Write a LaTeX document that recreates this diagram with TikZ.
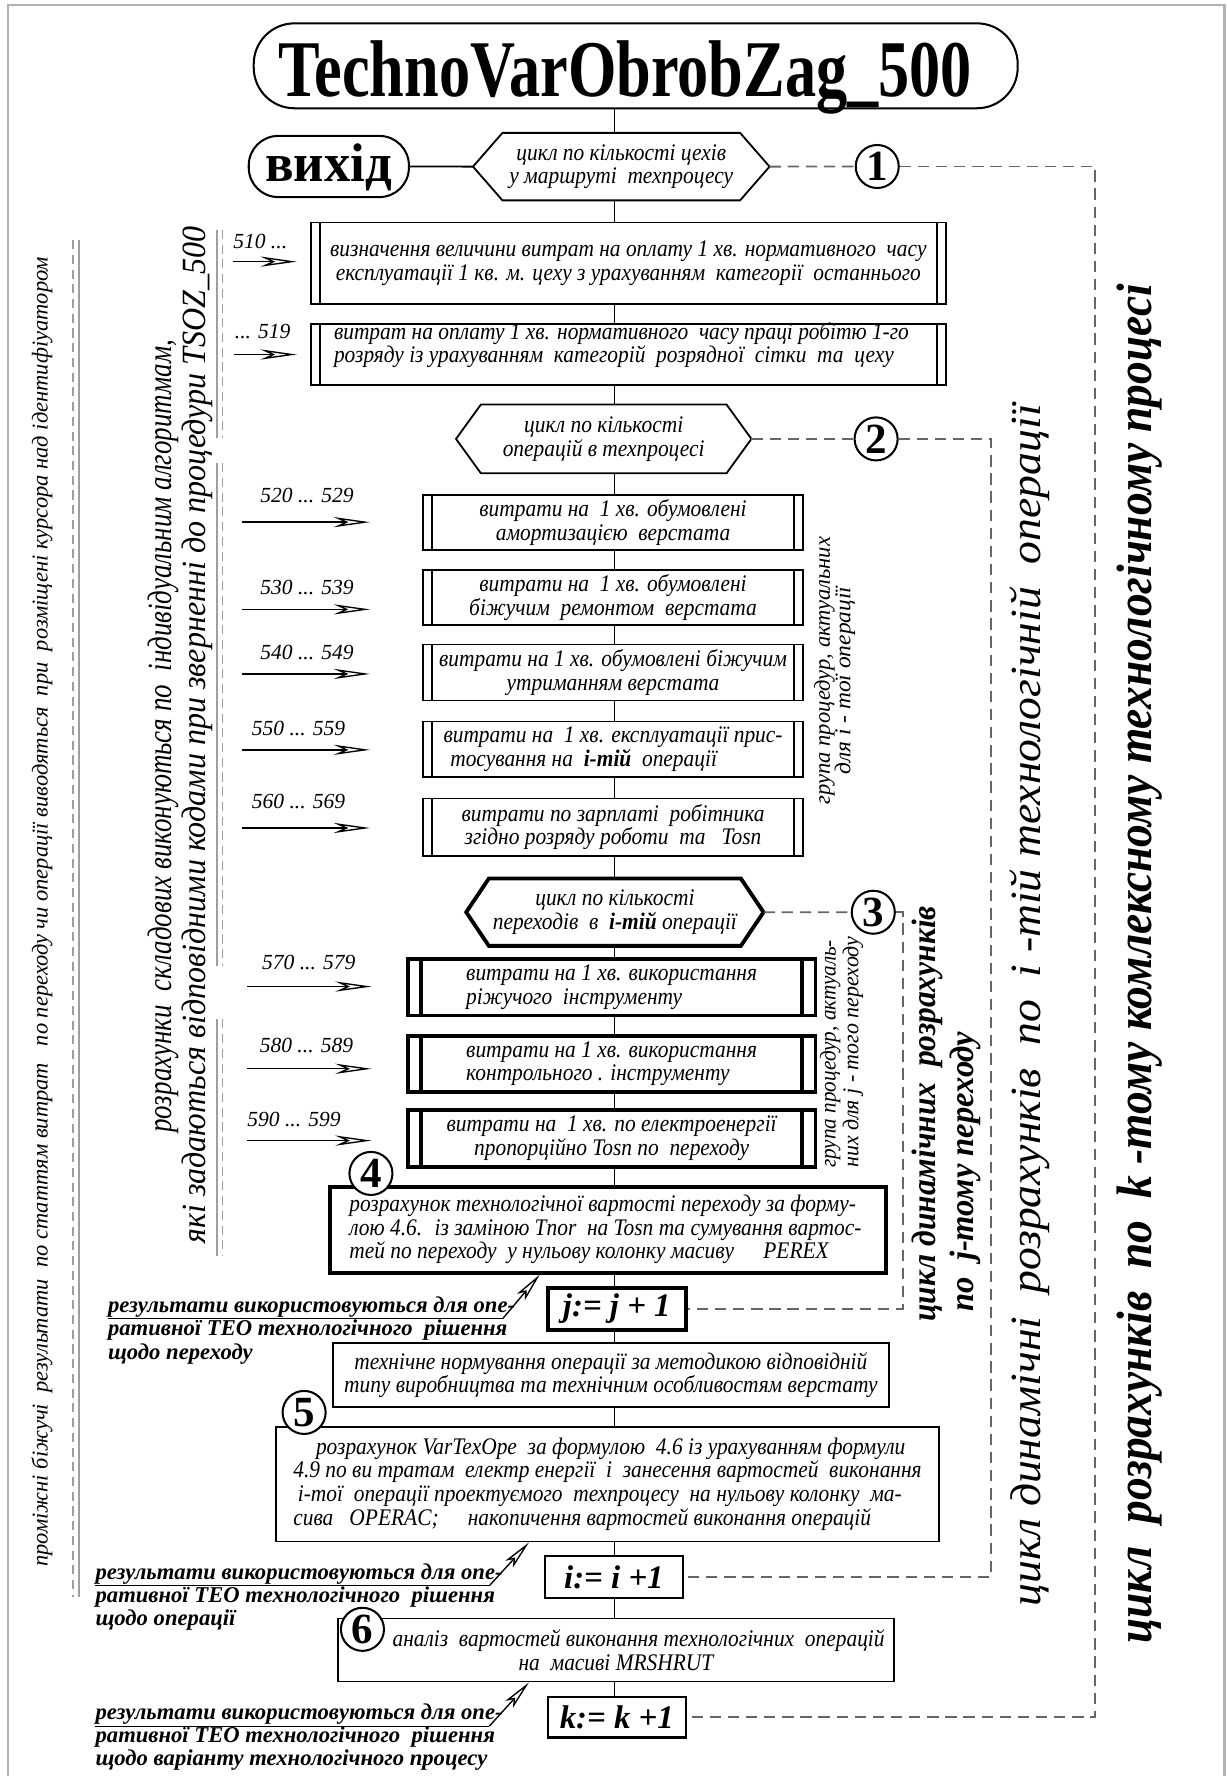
\documentclass[tikz,border=0pt]{standalone}
\usepackage{fontspec}
\usepackage{graphicx}
\setmainfont{Liberation Serif}
\newfontfamily\cf[FakeStretch=0.9]{Liberation Serif}
\newfontfamily\nf{Liberation Serif}
\usetikzlibrary{arrows.meta,calc}

\newcommand\bx[7]{%
  \pgfmathsetmacro\bxcx{(#3+#5)/2}%
  \pgfmathsetmacro\bxcy{(#4+#6)/2}%
  \pgfmathsetmacro\bxw{(#5-#3)/2}%
  \pgfmathsetmacro\bxh{(#6-#4)/2}%
  \node[#2, minimum width=\bxw pt, minimum height=\bxh pt] (#1) at (\bxcx,\bxcy) {#7};%
}
\newcommand\hexo[3]{%
  \draw[#3] (#1.west) -- ([xshift=#2*0.5pt]#1.north west) -- ([xshift=-#2*0.5pt]#1.north east)
    -- (#1.east) -- ([xshift=-#2*0.5pt]#1.south east) -- ([xshift=#2*0.5pt]#1.south west) -- cycle;%
}
\newcommand\inar[7]{%
  \coordinate (#1s) at (#2,#4); \coordinate (#1e) at (#3,#4);
  \draw[inarr] (#1s) -- (#1e);
  \node[lbl] (#1l) at (#6,#7) {#5};%
}
\newcommand\fitw[2]{\resizebox{#1}{\height}{#2}}

\tikzset{
 flow/.style={line width=0.8pt},
 bxs/.style={draw, line width=0.8pt, rectangle, inner sep=1pt},
 bxk/.style={draw, line width=1.7pt, rectangle, inner sep=1pt},
 procA/.style={bxs, path picture={\draw[line width=0.8pt]
   ([xshift=4pt]path picture bounding box.north west) -- ([xshift=4pt]path picture bounding box.south west)
   ([xshift=-4pt]path picture bounding box.north east) -- ([xshift=-4pt]path picture bounding box.south east);}},
 procB/.style={bxk, path picture={\draw[line width=1.7pt]
   ([xshift=6pt]path picture bounding box.north west) -- ([xshift=6pt]path picture bounding box.south west)
   ([xshift=-6pt]path picture bounding box.north east) -- ([xshift=-6pt]path picture bounding box.south east);}},
 tx/.style={font=\cf\itshape\fontsize{10.5}{10.5}\selectfont, align=center},
 txl/.style={font=\cf\itshape\fontsize{10.5}{10.5}\selectfont, anchor=base west, inner sep=0pt},
 hexn/.style={rectangle, inner sep=0pt, tx},
 loopd/.style={line width=0.8pt, black!60, dash pattern=on 5pt off 3pt},
 numc/.style={circle, draw, line width=0.9pt, fill=white, minimum size=19pt, inner sep=0pt,
   font=\nf\bfseries\fontsize{19}{19}\selectfont},
 lbl/.style={anchor=base west, inner sep=0pt, font=\nf\itshape\fontsize{9.5}{9.5}\selectfont},
 inarr/.style={line width=0.6pt, -{Stealth[open,length=16pt,width=4.5pt,inset=5pt]}},
 cline/.style={anchor=base west, inner sep=0pt, font=\nf\bfseries\itshape\fontsize{10}{10}\selectfont},
 callarr/.style={line width=0.6pt, -{Stealth[open,length=13pt,width=4.5pt,inset=3pt]}},
 gline/.style={gray!75, line width=0.7pt},
 gdash/.style={gline, dash pattern=on 4pt off 2.5pt},
 rot/.style={rotate=90, inner sep=0pt},
 asg/.style={font=\nf\bfseries\itshape\fontsize{14.5}{14.5}\selectfont}
}

\begin{document}
\begin{tikzpicture}[x=0.5pt,y=-0.5pt]
\useasboundingbox (0,0) rectangle (1083,1568);
% frame
\coordinate (fr1) at (7,1568); \coordinate (fr2) at (7,4.4);
\coordinate (fr3) at (1081,4.4); \coordinate (fr4) at (1081,1568);
\draw[gray!60, line width=1pt] (fr1) -- (fr2) -- (fr3) -- (fr4);

\coordinate (mx) at (542.5,0);

% title
\bx{tbox}{draw, line width=0.9pt, rounded corners=18pt}{224}{20.6}{898.5}{95.6}{}
\node[anchor=base, inner sep=0pt] (ttl) at (552,85.4) {\fitw{306pt}{\nf\bfseries\fontsize{35.5}{36}\selectfont TechnoVarObrobZag\_500}};

% exit + hex 1
\bx{exit}{draw, line width=0.9pt, rounded corners=13pt}{219.6}{120}{361}{174}{}
\node[anchor=base, inner sep=0pt] (exitt) at (290,160.3) {\fitw{56pt}{\nf\bfseries\fontsize{24}{24}\selectfont вихід}};
\bx{h1}{hexn}{418}{117.7}{679}{176.5}{цикл по кількості цехів\\у маршруті \ техпроцесу}
\hexo{h1}{26}{line width=0.8pt}
\draw[flow] (exit.east) -- (h1.west);

% boxes 1, 2
\bx{b1}{procA, tx}{274.5}{196.5}{835}{268.4}{визначення величини витрат на оплату 1 хв. нормативного \ часу\\експлуатації 1 кв. м. цеху з урахуванням \ категорії \ останнього}
\bx{b2}{procA}{274.5}{286}{835}{340}{}
\node[txl] (b2ta) at (294.5,300) {витрат на оплату 1 хв. нормативного \ часу праці робітю 1-го};
\node[txl] (b2tb) at (294.5,320) {розряду із урахуванням \ категорій \ розрядної \ сітки \ та \ цеху};

% hex 2 and group of boxes
\bx{h2}{hexn}{403}{357.5}{663}{417.5}{цикл по кількості\\операцій в техпроцесі}
\hexo{h2}{22}{line width=0.8pt}
\bx{ba}{procA, tx}{373.5}{437}{709}{485.5}{витрати на \ 1 хв. обумовлені\\амортизацією \ верстата}
\bx{bb}{procA, tx}{373.5}{503}{709}{551.6}{витрати на \ 1 хв. обумовлені\\біжучим \ ремонтом \ верстата}
\bx{bc}{procA, tx}{373.5}{569}{709}{618.4}{витрати на 1 хв. обумовлені біжучим\\утриманням верстата\hspace{14pt}}
\bx{bd}{procA, tx, align=left}{373.5}{637}{709}{686}{витрати на \ 1 хв. експлуатації прис-\\\hspace{3pt}тосування на \ \textbf{i-тій} \ операції}
\bx{be}{procA, tx}{373.5}{705}{709}{755.5}{витрати по зарплаті \ робітника\\згідно розряду роботи \ та \ \ Tosn}

% hex 3 and group of boxes
\bx{h3}{hexn}{412}{776}{673.7}{834.7}{цикл по кількості\\переходів \ в \ \textbf{i-тій} операції}
\hexo{h3}{20}{line width=1.7pt}
\bx{bf}{procB, tx, align=left}{360}{846.5}{720}{896.5}{витрати на 1 хв. використання\\ріжучого \ інструменту}
\bx{bg}{procB, tx, align=left}{360}{914.4}{720}{964}{витрати на 1 хв. використання\\контрольного . інструменту}
\bx{bh}{procB, tx}{360}{980}{720}{1030}{витрати на \ 1 хв. по електроенергії\\пропорційно Tosn по \ переходу}

% box 4 and j
\bx{b4}{bxk}{291}{1048}{782}{1123.6}{}
\node[txl] (b4a) at (308,1070) {розрахунок технологічної вартості переходу за форму-};
\node[txl] (b4b) at (308,1090.5) {лою 4.6. \ із заміною Tnor \ на Tosn та сумування вартос-};
\node[txl] (b4c) at (308,1111) {тей по переходу \ у нульову колонку масиву \quad PEREX};
\bx{jb}{bxk, asg}{483.6}{1137}{605.5}{1174}{j:= j + 1}
\bx{bt}{bxs, tx}{294}{1186}{784.6}{1242}{технічне нормування операції за методикою відповідній\\типу виробництва та технічним особливостям верстату}
\bx{b5}{bxs, tx, align=left}{243.7}{1259.5}{829}{1361}{\hspace{10pt}розрахунок VarTexOpe \ за формулою \ 4.6 із урахуванням формули\\4.9 по ви тратам \ електр енергії \ і \ занесення вартостей \ виконання\\\hspace{2pt}i-тої \ операції проектуємого \ техпроцесу \ на нульову колонку \ ма-\\сива \ \ OPERAC; \quad накопичення вартостей виконання операцій}
\bx{ib}{bxs, asg}{481}{1374}{603}{1410.7}{i:= i +1}
\bx{b6}{bxs, tx}{298.6}{1429}{789}{1484.6}{\hspace{20pt}аналіз \ вартостей виконання технологічних \ операцій\\на \ масиві MRSHRUT}
\bx{kb}{bxs, line width=1pt, asg}{483.6}{1498}{605.5}{1534}{k:= k +1}

% main flow line
\foreach \a/\b in {tbox/h1,h1/b1,b1/b2,b2/h2,h2/ba,ba/bb,bb/bc,bc/bd,bd/be,be/h3,h3/bf,bf/bg,bg/bh,bh/b4,b4/jb,jb/bt,bt/b5,b5/ib,ib/b6,b6/kb}
  \draw[flow] (\a.south -| mx) -- (\b.north -| mx);

% numbered circles
\node[numc] (c1) at (774.5,147) {1};
\node[numc] (c2) at (773.5,387.5) {2};
\node[numc] (c3) at (771,805.4) {3};
\node[numc] (c4) at (327.5,1036) {4};
\node[numc] (c5) at (268.5,1247) {5};
\node[numc] (c6) at (320,1438.5) {6};

% loop lines
\coordinate (L1) at (967,147);
\coordinate (L2) at (875,387.5);
\coordinate (L3) at (797,805.4);
\draw[loopd] (h1.east) -- (c1.west);
\draw[loopd] (c1.east) -- (L1) |- (kb.east);
\draw[loopd] (h2.east) -- (c2.west);
\draw[loopd] (c2.east) -- (L2) |- (ib.east);
\draw[loopd] (h3.east) -- (c3.west);
\draw[loopd] (c3.east) -- (L3) |- (jb.east);

% input arrows
\inar{a1}{205.6}{262}{231}{510 ...}{205.6}{219}
\inar{a2}{207}{262}{313}{... 519}{207}{298.5}
\inar{a3}{214}{326.6}{461}{520 ... 529}{229.5}{444}
\inar{a4}{214}{326.6}{538}{530 ... 539}{229.5}{525}
\inar{a5}{214}{326.6}{595}{540 ... 549}{229.5}{582.5}
\inar{a6}{214}{326.6}{662}{550 ... 559}{222}{649}
\inar{a7}{214}{326.6}{731}{560 ... 569}{222}{714}
\inar{a8}{218}{328}{871}{570 ... 579}{231}{856}
\inar{a9}{218}{328}{943.6}{580 ... 589}{229}{929.6}
\inar{a10}{218}{328}{1007}{590 ... 599}{218}{994.7}

% callouts
\coordinate (t1x) at (476.6,0);
\coordinate (t2x) at (467,0);
\node[cline] (k1a) at (95,1159) {результати використовуються для опе-};
\node[cline] (k1b) at (95,1179.5) {ративної ТЕО технологічного \ рішення};
\node[cline] (k1c) at (95,1200) {щодо переходу};
\coordinate (u1) at (444,1164);
\draw[line width=0.6pt] (k1a.base west) ++(0,5) -- (u1);
\draw[callarr] (u1) -- (t1x |- b4.south);

\node[cline] (k2a) at (84,1394.5) {результати використовуються для опе-};
\node[cline] (k2b) at (84,1415) {ративної ТЕО технологічного \ рішення};
\node[cline] (k2c) at (84,1435.5) {щодо операції};
\coordinate (u2) at (432,1400);
\draw[line width=0.6pt] (k2a.base west) ++(0,5.5) -- (u2);
\draw[callarr] (u2) -- (t2x |- b5.south);

\node[cline] (k3a) at (84,1518) {результати використовуються для опе-};
\node[cline] (k3b) at (84,1538.5) {ративної ТЕО технологічного \ рішення};
\node[cline] (k3c) at (84,1559) {щодо варіанту технологічного процесу};
\coordinate (u3) at (432,1524);
\draw[line width=0.6pt] (k3a.base west) ++(0,6) -- (u3);
\draw[callarr] (u3) -- (t2x |- b6.south);

% rotated texts right
\node[rot] (rk) at (1006,851) {\fitw{600pt}{\nf\bfseries\itshape\fontsize{22}{22}\selectfont цикл \ розрахунків \ по \ k -тому комлексному технологічному процесі}};
\node[rot] (rm) at (909,887.5) {\fitw{530.5pt}{\nf\itshape\fontsize{19}{19}\selectfont цикл динамічні \ розрахунків \ по \ і -тій технологічній \ операції}};
\node[rot] (rj1) at (819,983.5) {\fitw{183.5pt}{\nf\bfseries\itshape\fontsize{15}{15}\selectfont цикл динамічних \ розрахунків}};
\node[rot] (rj2) at (852,1034.5) {\fitw{123.5pt}{\nf\bfseries\itshape\fontsize{15}{15}\selectfont по \ j-тому переходу}};
\node[rot] (gi1) at (728,592) {\fitw{118pt}{\nf\itshape\fontsize{10}{10}\selectfont група процедур, актуальних}};
\node[rot] (gi2) at (746,601) {\fitw{83pt}{\nf\itshape\fontsize{10}{10}\selectfont для і - тої операції}};
\node[rot] (gj1) at (733,930.5) {\fitw{100.5pt}{\nf\itshape\fontsize{10}{10}\selectfont група процедур, актуаль-}};
\node[rot] (gj2) at (753,929) {\fitw{102pt}{\nf\itshape\fontsize{10}{10}\selectfont них для j - того переходу}};

% rotated texts left
\node[rot] (lf) at (37,805) {\fitw{578pt}{\nf\itshape\fontsize{10}{10}\selectfont проміжні біжучі \ результати \ по статтям витрат \ \ по переходу чи операції виводяться \ при \ розміщені курсора над ідентифіуатором}};
\node[rot] (lm1) at (144,650) {\fitw{350pt}{\nf\itshape\fontsize{15}{15}\selectfont розрахунки \ складових виконуються по \ індивідуальним алгоритмам,}};
\node[rot] (lm2) at (174,649) {\fitw{449pt}{\nf\itshape\fontsize{15}{15}\selectfont які задаються відповідними кодами при зверненні до процедури TSOZ\_500}};

% left double lines
\coordinate (d1a) at (64.5,212); \coordinate (d1b) at (64.5,1410);
\coordinate (d2a) at (70,212); \coordinate (d2b) at (70,1410);
\draw[gdash] (d1a) -- (d1b);
\draw[gline] (d2a) -- (d2b);
\foreach \ya/\yb [count=\i] in {203/387,409/853,900/1109}{
  \coordinate (m1a\i) at (191.5,\ya); \coordinate (m1b\i) at (191.5,\yb);
  \coordinate (m2a\i) at (196.5,\ya); \coordinate (m2b\i) at (196.5,\yb);
  \draw[gline] (m1a\i) -- (m1b\i);
  \draw[gdash] (m2a\i) -- (m2b\i);
}
\end{tikzpicture}
\end{document}
